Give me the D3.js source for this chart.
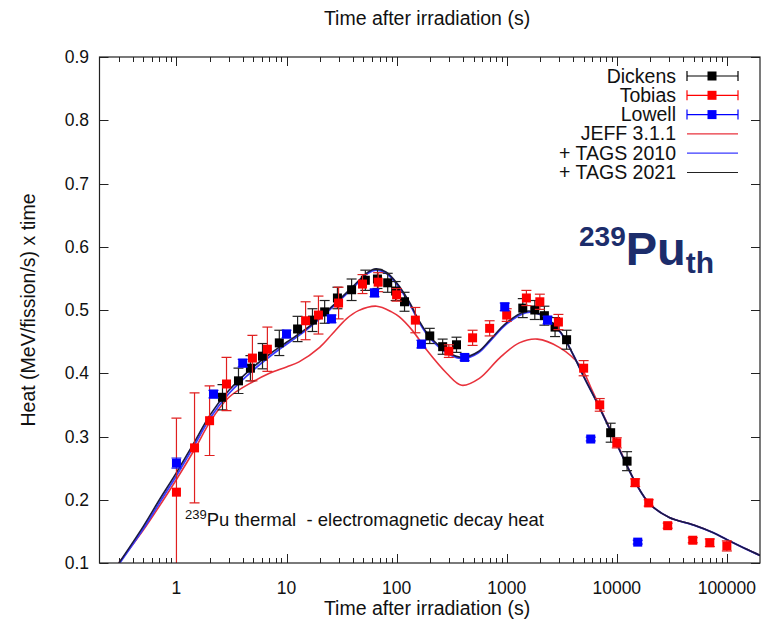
<!DOCTYPE html>
<html><head><meta charset="utf-8">
<script src="https://cdn.jsdelivr.net/npm/d3@7"></script>
<style>body{margin:0;background:#fff}svg{display:block;font-family:"Liberation Sans",Arial,sans-serif}</style>
</head><body>
<svg id="c" width="762" height="623"></svg>
<script>
// ---- data ----
const xTicks = [1, 10, 100, 1000, 10000, 100000];
const yTicks = [0.1, 0.2, 0.3, 0.4, 0.5, 0.6, 0.7, 0.8, 0.9];

// Dickens [t, value, err]
const dickens = [
  [2.62,0.362,0.02],[3.66,0.388,0.02],[4.7,0.408,0.02],[6.05,0.427,0.02],[8.6,0.448,0.02],
  [12.6,0.470,0.02],[17.2,0.484,0.018],[22.2,0.497,0.018],[29,0.519,0.017],[39,0.532,0.017],
  [52,0.547,0.016],[67,0.549,0.015],[83,0.543,0.015],[98,0.530,0.015],[118,0.513,0.015],
  [200,0.459,0.012],[262,0.442,0.012],[350,0.445,0.012],[1400,0.503,0.015],[1800,0.500,0.015],
  [2200,0.491,0.015],[2750,0.473,0.015],[3500,0.453,0.015],[8800,0.306,0.015],[12400,0.261,0.015]
];
const tobias = [
  [1.0,0.212,0.117],[1.46,0.282,0.087],[2.0,0.325,0.055],[2.85,0.383,0.042],[4.9,0.424,0.036],
  [6.7,0.438,0.035],[14.9,0.483,0.03],[19.5,0.492,0.03],[29.7,0.511,0.025],[49,0.541,0.015],
  [68,0.544,0.015],[100,0.524,0.01],[148,0.484,0.02],[298,0.435,0.01],[490,0.456,0.012],
  [700,0.471,0.012],[1000,0.492,0.01],[1510,0.519,0.012],[2000,0.513,0.012],[2950,0.481,0.012],
  [5000,0.408,0.012],[7000,0.350,0.01],[10000,0.290,0.008],[14700,0.227,0.006],[19500,0.195,0.005],
  [29000,0.159,0.004],[49000,0.136,0.004],[70000,0.132,0.006],[100000,0.127,0.008]
];
const lowell = [
  [1.0,0.258,0.008],[2.17,0.367,0.006],[4.0,0.416,0.006],[10,0.462,0.006],[25.6,0.486,0.006],
  [63,0.527,0.006],[168,0.446,0.006],[415,0.425,0.005],[960,0.505,0.006],[2350,0.484,0.006],
  [5800,0.296,0.003],[15500,0.133,0.003]
];
// model curves [t, value]
const tags2021 = [
  [0.3,0.1],[0.5,0.158],[0.7,0.2],[1,0.243],[1.5,0.295],[2,0.333],[3,0.373],[5,0.41],[7,0.43],
  [10,0.449],[15,0.47],[20,0.488],[30,0.516],[40,0.537],[55,0.56],[65,0.565],[80,0.56],[100,0.543],
  [130,0.513],[160,0.483],[200,0.458],[300,0.432],[400,0.425],[550,0.434],[700,0.452],[1000,0.48],
  [1500,0.498],[2000,0.494],[3000,0.468],[4000,0.43],[5000,0.395],[7000,0.345],[10000,0.288],
  [15000,0.225],[20000,0.193],[30000,0.172],[50000,0.16],[75000,0.148],[100000,0.137],[150000,0.122],[200000,0.112]
];
const tags2010 = [
  [0.3,0.098],[0.5,0.154],[0.7,0.195],[1,0.238],[1.5,0.29],[2,0.328],[3,0.368],[5,0.405],[7,0.426],
  [10,0.446],[15,0.468],[20,0.486],[30,0.514],[40,0.535],[55,0.558],[65,0.563],[80,0.558],[100,0.541],
  [130,0.511],[160,0.481],[200,0.456],[300,0.43],[400,0.423],[550,0.432],[700,0.45],[1000,0.478],
  [1500,0.496],[2000,0.493],[3000,0.467],[4000,0.43],[5000,0.395],[7000,0.345],[10000,0.288],
  [15000,0.225],[20000,0.193],[30000,0.172],[50000,0.16],[75000,0.148],[100000,0.137],[150000,0.122],[200000,0.112]
];
const jeff = [
  [0.3,0.1],[0.5,0.152],[0.7,0.19],[1,0.232],[1.5,0.283],[2,0.322],[3,0.362],[5,0.387],[7,0.4],
  [10,0.41],[13,0.418],[20,0.441],[26,0.462],[35,0.486],[45,0.499],[66,0.506],[90,0.497],[106,0.489],
  [140,0.467],[187,0.437],[285,0.4],[390,0.381],[565,0.392],[860,0.424],[1300,0.448],[1900,0.454],
  [3000,0.441],[4600,0.413],[6000,0.372],[8000,0.325],[10000,0.29],[15000,0.225],[20000,0.193],
  [30000,0.172],[50000,0.16],[75000,0.148],[100000,0.137],[150000,0.122],[200000,0.112]
];

// ---- layout ----
const svg = d3.select("#c");
const L = 99.5, R = 760, T = 57, B = 563;
const x = d3.scaleLog().domain([0.2, 200000]).range([L, R]);
const y = d3.scaleLinear().domain([0.1, 0.9]).range([B, T]);
const tickFont = 17.5, font = 19.5;

svg.append("defs").append("clipPath").attr("id","clip")
  .append("rect").attr("x",L).attr("y",T).attr("width",R-L).attr("height",B-T);

// minor + major tick positions
const minorT = [];
for (let e = -1; e <= 5; e++) for (let k = 1; k <= 9; k++) {
  const v = k * Math.pow(10, e);
  if (v > 0.2 && v < 200000) minorT.push(v);
}
const tickG = svg.append("g").attr("stroke","#222").attr("stroke-width",1);
minorT.forEach(v => {
  const major = Math.abs(Math.log10(v) - Math.round(Math.log10(v))) < 1e-9;
  const len = major ? 9 : 5;
  const px = Math.round(x(v)) + 0.5;
  tickG.append("line").attr("x1",px).attr("x2",px).attr("y1",B).attr("y2",B-len);
  tickG.append("line").attr("x1",px).attr("x2",px).attr("y1",T).attr("y2",T+len);
});
yTicks.forEach(v => {
  const py = Math.round(y(v)) + 0.5;
  tickG.append("line").attr("x1",L).attr("x2",L+9).attr("y1",py).attr("y2",py);
  tickG.append("line").attr("x1",R).attr("x2",R-9).attr("y1",py).attr("y2",py);
});

// tick labels
svg.append("g").selectAll("text").data(xTicks).join("text")
  .attr("x", d => x(d)).attr("y", 594).attr("text-anchor","middle")
  .attr("font-size",tickFont).attr("fill","#111").text(d => d);
svg.append("g").selectAll("text").data(yTicks).join("text")
  .attr("x", 89).attr("y", d => y(d) + 6).attr("text-anchor","end")
  .attr("font-size",tickFont).attr("fill","#111").text(d => d.toFixed(1));

// axis titles
svg.append("text").attr("x",427).attr("y",25).attr("text-anchor","middle")
  .attr("font-size",font).attr("fill","#111").text("Time after irradiation (s)");
svg.append("text").attr("x",427).attr("y",615).attr("text-anchor","middle")
  .attr("font-size",font).attr("fill","#111").text("Time after irradiation (s)");
svg.append("text").attr("transform","translate(35,310) rotate(-90)").attr("text-anchor","middle")
  .attr("font-size",font).attr("fill","#111").text("Heat (MeV/fission/s) x time");

// curves
const line = d3.line().x(d => x(d[0])).y(d => y(d[1])).curve(d3.curveCatmullRom.alpha(0.5));
const plot = svg.append("g").attr("clip-path","url(#clip)");
plot.append("path").datum(jeff).attr("d",line).attr("fill","none").attr("stroke","#e8323c").attr("stroke-width",1.6);
plot.append("path").datum(tags2010).attr("d",line).attr("fill","none").attr("stroke","#3a3aff").attr("stroke-width",1.8);
plot.append("path").datum(tags2021).attr("d",line).attr("fill","none").attr("stroke","#1a1a40").attr("stroke-width",1.6);

// data points
const ms = 9, cap = 5;
function series(data, col, barCol) {
  const g = plot.append("g");
  data.forEach(d => {
    const px = x(d[0]), y1 = y(d[1] + d[2]), y0 = y(d[1] - d[2]);
    g.append("line").attr("x1",px).attr("x2",px).attr("y1",y1).attr("y2",y0).attr("stroke",barCol).attr("stroke-width",1.2);
    g.append("line").attr("x1",px-cap).attr("x2",px+cap).attr("y1",y1).attr("y2",y1).attr("stroke",barCol).attr("stroke-width",1.2);
    g.append("line").attr("x1",px-cap).attr("x2",px+cap).attr("y1",y0).attr("y2",y0).attr("stroke",barCol).attr("stroke-width",1.2);
  });
  g.selectAll("rect").data(data).join("rect")
    .attr("x", d => x(d[0]) - ms/2).attr("y", d => y(d[1]) - ms/2)
    .attr("width", ms).attr("height", ms).attr("fill", col);
}
series(dickens, "#000", "#222");
series(tobias, "#f00", "#e02020");
series(lowell, "#00f", "#2020e0");

// frame
svg.append("rect").attr("x",L).attr("y",T).attr("width",R-L).attr("height",B-T)
  .attr("fill","none").attr("stroke","#222").attr("stroke-width",1.2);

// legend
const legend = [
  {name:"Dickens", col:"#000", type:"pt"},
  {name:"Tobias", col:"#f00", type:"pt"},
  {name:"Lowell", col:"#00f", type:"pt"},
  {name:"JEFF 3.1.1", col:"#e8323c", type:"ln"},
  {name:"+ TAGS 2010", col:"#3a3aff", type:"ln"},
  {name:"+ TAGS 2021", col:"#222", type:"ln"}
];
const lg = svg.append("g");
legend.forEach((d, i) => {
  const yy = 76 + i * 19.3;
  lg.append("text").attr("x",676).attr("y",yy+6.5).attr("text-anchor","end")
    .attr("font-size",font).attr("fill","#111").text(d.name);
  lg.append("line").attr("x1",687).attr("x2",738).attr("y1",yy).attr("y2",yy)
    .attr("stroke",d.col).attr("stroke-width",1.2);
  if (d.type === "pt") {
    [687,738].forEach(xx => lg.append("line").attr("x1",xx).attr("x2",xx).attr("y1",yy-5).attr("y2",yy+5).attr("stroke",d.col).attr("stroke-width",1.2));
    lg.append("rect").attr("x",712-ms/2).attr("y",yy-ms/2).attr("width",ms).attr("height",ms).attr("fill",d.col);
  }
});

// annotations
const ann = svg.append("text").attr("x",185).attr("y",526).attr("font-size",18.5).attr("fill","#111")
  .style("white-space","pre");
ann.append("tspan").attr("font-size",13).attr("dy",-7).text("239");
ann.append("tspan").attr("dy",7).text("Pu thermal  - electromagnetic decay heat");

const big = svg.append("text").attr("x",579).attr("y",265).attr("font-weight","bold").attr("fill","#1c2d6b").attr("font-size",47);
big.append("tspan").attr("font-size",28).attr("dy",-19).text("239");
big.append("tspan").attr("dy",19).text("Pu");
big.append("tspan").attr("font-size",30).attr("dy",8).text("th");
</script>
</body></html>
